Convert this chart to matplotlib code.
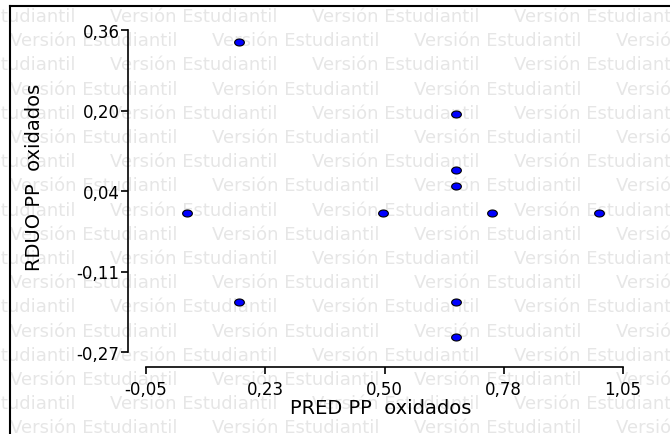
import matplotlib
matplotlib.use("Agg")
import matplotlib.pyplot as plt
import numpy as np
from matplotlib.path import Path
from matplotlib.lines import Line2D

# data
pred = [0.044, 0.164, 0.164, 0.497, 0.665, 0.665, 0.665, 0.665, 0.665, 0.748, 0.995]
rduo = [0.002, 0.337, -0.172, 0.002, 0.196, 0.086, 0.055, -0.172, -0.241, 0.002, 0.002]

x_ticks = [-0.05, 0.225, 0.50, 0.775, 1.05]
x_labels = ["-0,05", "0,23", "0,50", "0,78", "1,05"]
y_ticks = [-0.27, -0.1125, 0.045, 0.2025, 0.36]
y_labels = ["-0,27", "-0,11", "0,04", "0,20", "0,36"]

W, H = 670, 435
fig = plt.figure(figsize=(W / 100, H / 100), dpi=100)
fig.patch.set_facecolor("white")

# watermark rows "Versión Estudiantil"
period = 202
for k in range(19):
    ypx = 17 + 24.2 * k
    start = -92 if k % 2 == 0 else 10
    x = start
    while x < W:
        fig.text(x / W, 1 - ypx / H, "Versión Estudiantil", fontsize=13,
                 color="#e6e6e6", ha="left", va="center", zorder=0)
        x += period

# outer frame (top and left edges only visible)
fig.add_artist(Line2D([10 / W, 1.0], [1 - 7 / H, 1 - 7 / H], color="black", lw=1.5,
                      transform=fig.transFigure))
fig.add_artist(Line2D([10 / W, 10 / W], [0.0, 1 - 7 / H], color="black", lw=1.5,
                      transform=fig.transFigure))

ax = fig.add_axes([146 / W, (H - 353) / H, (623 - 146) / W, (353 - 31) / H])
ax.patch.set_alpha(0)
ax.set_zorder(3)

# slightly flat ellipse marker
t = np.linspace(0, 2 * np.pi, 41)
ell = Path(np.column_stack([np.cos(t), 0.72 * np.sin(t)]), closed=True)
ax.plot(pred, rduo, linestyle="none", marker=ell, markersize=7,
        markerfacecolor="#0000ff", markeredgecolor="black", markeredgewidth=0.8,
        clip_on=False, zorder=5)

ax.set_xlim(-0.05, 1.05)
ax.set_ylim(-0.27, 0.36)
ax.set_xticks(x_ticks)
ax.set_xticklabels(x_labels)
ax.set_yticks(y_ticks)
ax.set_yticklabels(y_labels)

for s in ["top", "right"]:
    ax.spines[s].set_visible(False)
ax.spines["left"].set_position(("outward", 13))
ax.spines["bottom"].set_position(("outward", 11))
ax.spines["left"].set_linewidth(1.2)
ax.spines["bottom"].set_linewidth(1.2)
ax.tick_params(axis="both", direction="out", length=5, width=1.2, labelsize=12,
               colors="black")
ax.tick_params(axis="y", pad=1)
ax.tick_params(axis="x", pad=4)

fig.text(381 / W, 1 - 409 / H, "PRED PP  oxidados", fontsize=14, ha="center", va="center",
         zorder=4)
fig.text(35 / W, 1 - 177 / H, "RDUO PP  oxidados", fontsize=14, rotation=90,
         ha="center", va="center", zorder=4)

fig.savefig("out.png", dpi=100)
